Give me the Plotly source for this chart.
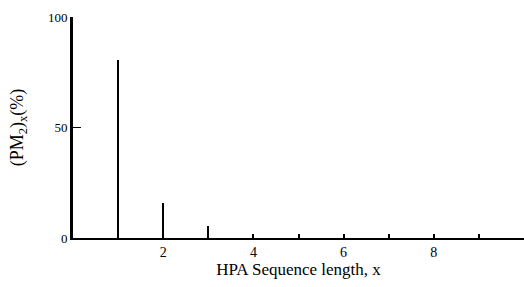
import plotly.graph_objects as go

seq_length = [1, 2, 3]
pm2_percent = [80.5, 16.0, 5.5]
x_tick_vals = [2, 4, 6, 8]
x_tick_text = ["2", "4", "6", "8"]
y_tick_vals = [0, 50, 100]
y_tick_text = ["0", "50", "100"]

fig = go.Figure()
fig.add_trace(go.Bar(x=seq_length, y=pm2_percent, width=0.05,
                     marker=dict(color="black", line=dict(width=0))))

font = dict(family="Liberation Serif, Times New Roman, serif", color="black", size=12)
fig.update_layout(
    width=524, height=287,
    margin=dict(l=73, r=0, t=17, b=49),
    paper_bgcolor="white", plot_bgcolor="white",
    showlegend=False, font=font, bargap=0,
)
fig.update_xaxes(
    range=[0, 10], tickvals=x_tick_vals, ticktext=x_tick_text,
    ticks="inside", ticklen=4, tickwidth=1.5, tickcolor="black",
    minor=dict(ticks="inside", ticklen=4, tickwidth=1.5, tickcolor="black",
               tick0=0, dtick=1, showgrid=False),
    showline=True, linecolor="black", linewidth=2, showgrid=False, zeroline=False,
    title=dict(text="HPA Sequence length, x", font=dict(size=17), standoff=1),
    tickfont=dict(size=14), automargin=False,
)
fig.update_yaxes(
    range=[0, 100], tickvals=y_tick_vals, ticktext=y_tick_text,
    ticks="inside", ticklen=8, tickwidth=1.2, tickcolor="black",
    showline=True, linecolor="black", linewidth=3, showgrid=False, zeroline=False,
    title=dict(text="(PM<sub>2</sub>)<sub>x</sub>(%)", font=dict(size=18), standoff=20),
    tickfont=dict(size=13), automargin=False,
)
fig.write_html(
    "out.html",
    config={"displayModeBar": False},
    post_script="document.body.style.margin='0';document.body.style.overflow='hidden';",
)
